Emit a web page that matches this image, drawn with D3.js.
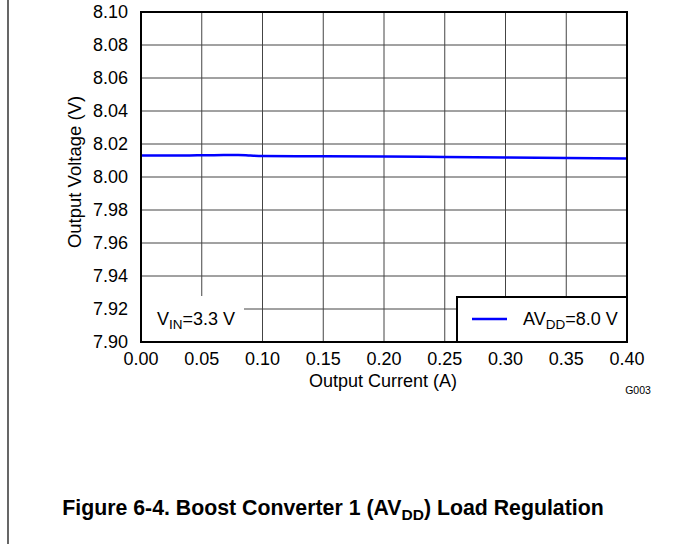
<!DOCTYPE html>
<html>
<head>
<meta charset="utf-8">
<script src="https://d3js.org/d3.v7.min.js"></script>
<style>
  body { margin: 0; background: #fff; font-family: Arial, 'Liberation Sans', sans-serif; }
  svg text { fill: #000; }
</style>
</head>
<body>
<svg id="chart" width="673" height="544"></svg>
<script>
// data
const currentA = [0.00, 0.01, 0.02, 0.04, 0.06, 0.08, 0.09, 0.10, 0.15, 0.20, 0.25, 0.30, 0.35, 0.40];
const avddV = [8.0130, 8.0131, 8.0130, 8.0131, 8.0132, 8.0134, 8.0130, 8.0127, 8.0126, 8.0124, 8.0121, 8.0118, 8.0115, 8.0112];
const xTicks = [0.00, 0.05, 0.10, 0.15, 0.20, 0.25, 0.30, 0.35, 0.40];
const yTicks = [7.90, 7.92, 7.94, 7.96, 7.98, 8.00, 8.02, 8.04, 8.06, 8.08, 8.10];

const svg = d3.select("#chart");
const plot = { left: 141, top: 12, right: 627, bottom: 342 };

const x = d3.scaleLinear().domain([0, 0.40]).range([plot.left, plot.right]);
const y = d3.scaleLinear().domain([7.90, 8.10]).range([plot.bottom, plot.top]);

// page border at left
svg.append("line")
  .attr("x1", 8).attr("x2", 8).attr("y1", 0).attr("y2", 544)
  .attr("stroke", "#000").attr("stroke-width", 1.2);

// grid
svg.append("g").selectAll("line").data(xTicks).enter().append("line")
  .attr("x1", d => x(d)).attr("x2", d => x(d))
  .attr("y1", plot.top).attr("y2", plot.bottom)
  .attr("stroke", "#444").attr("stroke-width", 1);
svg.append("g").selectAll("line").data(yTicks).enter().append("line")
  .attr("x1", plot.left).attr("x2", plot.right)
  .attr("y1", d => y(d)).attr("y2", d => y(d))
  .attr("stroke", "#444").attr("stroke-width", 1);

// data line
const line = d3.line().x((d, i) => x(currentA[i])).y(d => y(d)).curve(d3.curveMonotoneX);
svg.append("path").datum(avddV)
  .attr("d", line)
  .attr("fill", "none").attr("stroke", "#0000ff").attr("stroke-width", 2.5);

// annotation box (V_IN)
svg.append("rect")
  .attr("x", plot.left).attr("y", 296).attr("width", 103).attr("height", plot.bottom - 296)
  .attr("fill", "#fff");
const vin = svg.append("text").attr("x", 157).attr("y", 325).style("font-size", "18px");
vin.append("tspan").text("V");
vin.append("tspan").attr("dy", 4).style("font-size", "13.5px").text("IN");
vin.append("tspan").attr("dy", -4).text("=3.3 V");

// legend
svg.append("rect")
  .attr("x", 457).attr("y", 297).attr("width", plot.right - 457).attr("height", plot.bottom - 297)
  .attr("fill", "#fff").attr("stroke", "#000").attr("stroke-width", 2);
svg.append("line")
  .attr("x1", 472).attr("x2", 507).attr("y1", 319).attr("y2", 319)
  .attr("stroke", "#0000ff").attr("stroke-width", 2.5);
const leg = svg.append("text").attr("x", 523).attr("y", 325).style("font-size", "18px");
leg.append("tspan").text("AV");
leg.append("tspan").attr("dy", 4).style("font-size", "13.5px").text("DD");
leg.append("tspan").attr("dy", -4).text("=8.0 V");

// plot frame
svg.append("rect")
  .attr("x", plot.left).attr("y", plot.top)
  .attr("width", plot.right - plot.left).attr("height", plot.bottom - plot.top)
  .attr("fill", "none").attr("stroke", "#000").attr("stroke-width", 2);

// tick labels
svg.append("g").selectAll("text").data(yTicks).enter().append("text")
  .attr("x", 128).attr("y", d => y(d)).attr("dy", "0.35em")
  .attr("text-anchor", "end").style("font-size", "18px")
  .text(d => d.toFixed(2));
svg.append("g").selectAll("text").data(xTicks).enter().append("text")
  .attr("x", d => x(d)).attr("y", 365)
  .attr("text-anchor", "middle").style("font-size", "18px")
  .text(d => d.toFixed(2));

// axis titles
svg.append("text")
  .attr("x", 383).attr("y", 387)
  .attr("text-anchor", "middle").style("font-size", "18px")
  .text("Output Current (A)");
svg.append("text")
  .attr("transform", "translate(75,172) rotate(-90)").attr("dy", "0.35em")
  .attr("text-anchor", "middle").style("font-size", "18.5px")
  .text("Output Voltage (V)");
svg.append("text")
  .attr("x", 638).attr("y", 390).attr("dy", "0.35em")
  .attr("text-anchor", "middle").style("font-size", "10.5px")
  .text("G003");

// caption
const cap = svg.append("text")
  .attr("x", 333).attr("y", 515).attr("text-anchor", "middle")
  .style("font-size", "21.3px").style("font-weight", "bold");
cap.append("tspan").text("Figure 6-4. Boost Converter 1 (AV");
cap.append("tspan").attr("dy", 5).style("font-size", "15.5px").text("DD");
cap.append("tspan").attr("dy", -5).text(") Load Regulation");
</script>
</body>
</html>
